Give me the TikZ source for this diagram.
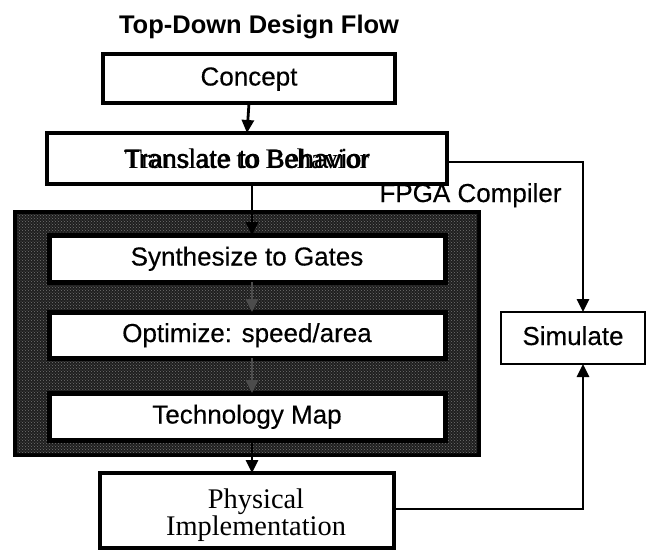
\documentclass[tikz,border=0pt]{standalone}
\usepackage{fontspec}
\setmainfont{Liberation Serif}
\newfontfamily\sansface[FakeBold=0.35]{Liberation Sans}
\newfontfamily\titleface{Liberation Sans}
\newfontfamily\serifface{Liberation Serif}
\usetikzlibrary{arrows.meta,patterns}
\begin{document}
\begin{tikzpicture}[x=1pt,y=-1pt,
  sanstext/.style={font=\sansface\fontsize{26}{30}\selectfont},
  stepbox/.style={draw=black,line width=3.2pt,fill=white,inner sep=0pt,outer sep=0pt,
    sanstext,text height=19pt,text depth=5pt},
  innerbox/.style={stepbox,line width=5pt},
  tip/.style={-{Triangle[length=13pt,width=12pt]}},
  arr/.style={line width=2.8pt,tip},
  link/.style={line width=2.8pt}]
\useasboundingbox (0,0) rectangle (648,550);

% title
\node[font=\titleface\bfseries\fontsize{25.5}{30}\selectfont,anchor=base] (title) at (259,33) {Top-Down Design Flow};

% top boxes
\node[stepbox,minimum width=292pt,minimum height=49pt] (concept) at (249,78.5) {Concept};
\node[stepbox,minimum width=400pt,minimum height=51pt] (trans) at (247,158.5) {};
\node[sanstext,inner sep=0pt] (transA) at (247,158.5) {Translate to Behavior};
\node[font=\serifface\fontsize{28.3}{30}\selectfont,inner sep=0pt] (transB) at (247,158.5) {Translate to Behavior};

% FPGA compiler frame: black rim around a dark stippled band
\node[fill=black,inner sep=0pt,minimum width=468pt,minimum height=247pt] (fpga) at (247,333.5) {};
\node[fill=black!88,inner sep=0pt,minimum width=460pt,minimum height=239pt,
  postaction={pattern=crosshatch dots,pattern color=black!55}] (band) at (fpga.center) {};
\node[sanstext,anchor=base] (fpgalabel) at (470.5,202) {FPGA Compiler};

\node[innerbox,minimum width=396pt,minimum height=47pt] (synth) at (247,258.5) {Synthesize to Gates};
\node[innerbox,minimum width=396pt,minimum height=46pt] (opt) at (247,335) {Optimize: speed/area};
\node[innerbox,minimum width=396pt,minimum height=47pt] (tech) at (247,416.5) {Technology Map};

% side and bottom boxes
\node[stepbox,line width=2.8pt,minimum width=144pt,minimum height=52pt] (sim) at (573,338) {Simulate};
\node[draw=black,line width=3.8pt,fill=white,inner sep=0pt,outer sep=0pt,
  minimum width=294pt,minimum height=75pt] (phys) at (247,510.5) {};
\node[font=\serifface\fontsize{28.4}{25}\selectfont,align=center,inner sep=0pt] (physlabel) at (256,515) {Physical\\Implementation};

% flow connectors
\draw[arr] (concept.south) -- (trans.north);
\draw[arr] ([xshift=5]trans.south) -- ([xshift=5]synth.north);
\draw[arr,black!70] ([xshift=5]synth.south) -- ([xshift=5]opt.north);
\draw[arr,black!70] ([xshift=5]opt.south) -- ([xshift=5]tech.north);
\draw[arr] ([xshift=5]tech.south) -- ([xshift=5]phys.north);

% simulation feedback paths
\coordinate (simtop) at ([xshift=10]sim.north);
\coordinate (simbot) at ([xshift=10]sim.south);
\draw[link,tip] ([yshift=-3.5]trans.east) -| (simtop);
\draw[link,tip] ([yshift=1.5]phys.east) -| (simbot);
\end{tikzpicture}
\end{document}
